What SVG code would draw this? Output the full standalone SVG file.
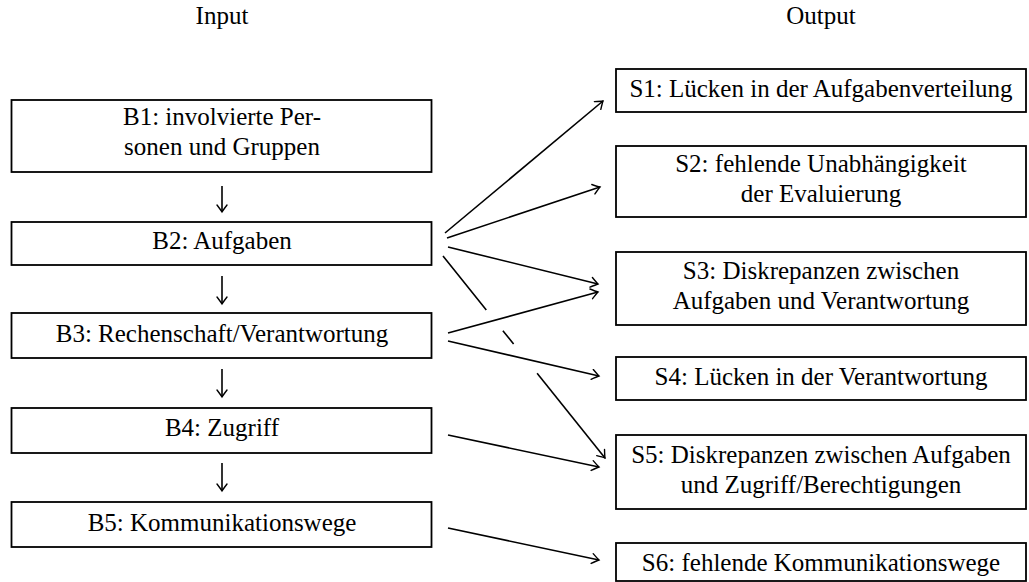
<svg xmlns="http://www.w3.org/2000/svg" width="1029" height="582" viewBox="0 0 1029 582">
<defs>
<style>
.box{fill:#fff;stroke:#000;stroke-width:1.8}
.t{font-family:"Liberation Serif","Times New Roman",serif;font-size:25px;fill:#000;text-anchor:middle}
.c{fill:none;stroke:#000;stroke-width:1.6}
</style>
<marker id="to" viewBox="-8 -6 10 12" markerWidth="10" markerHeight="12" refX="0" refY="0" orient="auto" markerUnits="userSpaceOnUse">
<path d="M -7 -5 Q -2 -1.2 0 0 Q -2 1.2 -7 5" fill="none" stroke="#000" stroke-width="1.4" stroke-linecap="round"/>
</marker>
</defs>
<rect width="1029" height="582" fill="#fff"/>
<text class="t" x="222" y="24">Input</text>
<text class="t" x="821" y="24">Output</text>
<g id="B1"><rect class="box" x="11.5" y="100" width="420" height="72"/><text class="t" x="222" y="125">B1: involvierte Per-</text><text class="t" x="222" y="155">sonen und Gruppen</text></g>
<g id="B2"><rect class="box" x="11.5" y="222" width="420" height="43"/><text class="t" x="222" y="249">B2: Aufgaben</text></g>
<g id="B3"><rect class="box" x="11.5" y="313" width="420" height="45"/><text class="t" x="222" y="342">B3: Rechenschaft/Verantwortung</text></g>
<g id="B4"><rect class="box" x="11.5" y="408" width="420" height="45"/><text class="t" x="222" y="436">B4: Zugriff</text></g>
<g id="B5"><rect class="box" x="11.5" y="502" width="420" height="45"/><text class="t" x="222" y="531">B5: Kommunikationswege</text></g>
<g id="S1"><rect class="box" x="616" y="69" width="410" height="43"/><text class="t" x="821" y="97">S1: Lücken in der Aufgabenverteilung</text></g>
<g id="S2"><rect class="box" x="616" y="146" width="410" height="71"/><text class="t" x="821" y="172">S2: fehlende Unabhängigkeit</text><text class="t" x="821" y="202">der Evaluierung</text></g>
<g id="S3"><rect class="box" x="616" y="252" width="410" height="73"/><text class="t" x="821" y="279">S3: Diskrepanzen zwischen</text><text class="t" x="821" y="309">Aufgaben und Verantwortung</text></g>
<g id="S4"><rect class="box" x="616" y="357" width="410" height="43"/><text class="t" x="821" y="385">S4: Lücken in der Verantwortung</text></g>
<g id="S5"><rect class="box" x="616" y="435" width="410" height="74"/><text class="t" x="821" y="463">S5: Diskrepanzen zwischen Aufgaben</text><text class="t" x="821" y="493">und Zugriff/Berechtigungen</text></g>
<g id="S6"><rect class="box" x="616" y="543" width="410" height="38"/><text class="t" x="821" y="571">S6: fehlende Kommunikationswege</text></g>
<g id="connectors">
<line class="c" x1="222" y1="186" x2="222" y2="212" marker-end="url(#to)"/>
<line class="c" x1="222" y1="276" x2="222" y2="304" marker-end="url(#to)"/>
<line class="c" x1="222" y1="369" x2="222" y2="397" marker-end="url(#to)"/>
<line class="c" x1="222" y1="463" x2="222" y2="491" marker-end="url(#to)"/>
<line class="c" x1="445" y1="233" x2="603" y2="101" marker-end="url(#to)"/>
<line class="c" x1="447" y1="238" x2="600" y2="187" marker-end="url(#to)"/>
<line class="c" x1="448" y1="247" x2="598" y2="284" marker-end="url(#to)"/>
<path class="c" d="M 443 256 L 486.3 310 M 502.9 330.7 L 513.6 344"/>
<line class="c" x1="537.1" y1="373.3" x2="605" y2="458" marker-end="url(#to)"/>
<line class="c" x1="448" y1="333" x2="598" y2="292" marker-end="url(#to)"/>
<line class="c" x1="448" y1="341" x2="599" y2="376" marker-end="url(#to)"/>
<line class="c" x1="448" y1="435" x2="599" y2="467" marker-end="url(#to)"/>
<line class="c" x1="448" y1="528" x2="599" y2="560" marker-end="url(#to)"/>
</g>
</svg>
